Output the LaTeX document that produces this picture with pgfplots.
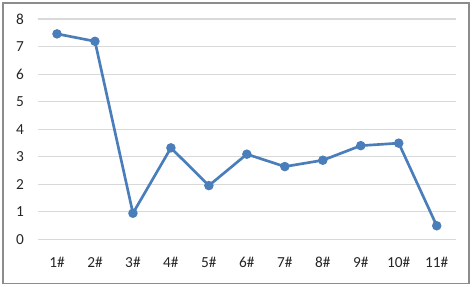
\documentclass[border=0pt]{standalone}
\usepackage{pgfplots}
\pgfplotsset{compat=1.18}
\usepackage{fontspec}
\setmainfont{Carlito}
\definecolor{lineblue}{HTML}{4A7EBB}
\definecolor{gridgray}{HTML}{D9D9D9}
\definecolor{framegray}{HTML}{8C8C8C}
\begin{document}
\begin{tikzpicture}
\begin{axis}[
  scale only axis,
  width=313.3pt, height=165.2pt,
  xmin=0.5, xmax=11.5, ymin=0, ymax=8,
  axis line style={draw=none},
  xtick={1,...,11},
  xticklabels={1\#,2\#,3\#,4\#,5\#,6\#,7\#,8\#,9\#,10\#,11\#},
  ytick={0,1,...,8},
  ymajorgrids,
  grid style={gridgray, line width=0.8pt},
  major tick length=0pt,
  tick label style={font=\fontsize{11.5pt}{13pt}\selectfont, text=black!85},
  xticklabel style={yshift=-10pt},
  yticklabel style={xshift=-7pt},
  /pgf/number format/assume math mode=true,
  clip=false,
]
\addplot[lineblue, line width=2pt, mark=*, mark size=2.5pt, mark options={fill=lineblue, draw=lineblue}]
  coordinates {(1,7.46) (2,7.19) (3,0.945) (4,3.32) (5,1.95) (6,3.09) (7,2.64) (8,2.87) (9,3.40) (10,3.49) (11,0.49)};
\draw[framegray, line width=0.8pt] (rel axis cs:-0.0838,-0.2029) rectangle (rel axis cs:1.0318,1.0726);
\coordinate (bl) at (rel axis cs:-0.0910,-0.2165);
\coordinate (tr) at (rel axis cs:1.0390,1.0863);
\end{axis}
\pgfresetboundingbox
\path (bl) rectangle (tr);
\end{tikzpicture}
\end{document}
